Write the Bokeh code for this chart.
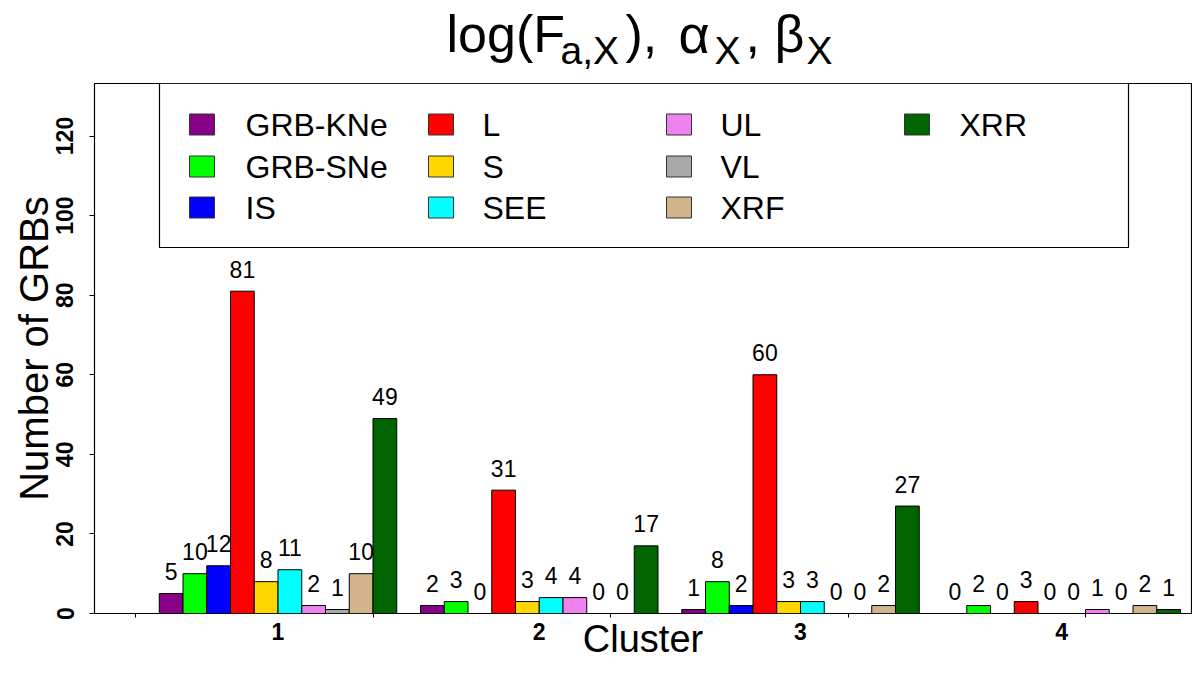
import numpy as np
from bokeh.plotting import figure
from bokeh.layouts import column
from bokeh.models import Range1d, FixedTicker, ColumnDataSource
from bokeh.core.properties import value
from bokeh.embed import file_html
from bokeh.resources import INLINE

# ---------------- data ----------------
clusters = ["1", "2", "3", "4"]
classes = ["GRB-KNe", "GRB-SNe", "IS", "L", "S", "SEE", "UL", "VL", "XRF", "XRR"]
grb_kne = [5, 2, 1, 0]
grb_sne = [10, 3, 8, 2]
is_ = [12, 0, 2, 0]
l_ = [81, 31, 60, 3]
s_ = [8, 3, 3, 0]
see = [11, 4, 3, 0]
ul = [2, 4, 0, 1]
vl = [1, 0, 0, 0]
xrf = [10, 0, 2, 2]
xrr = [49, 17, 27, 1]
series = [grb_kne, grb_sne, is_, l_, s_, see, ul, vl, xrf, xrr]
colors = ["#880088", "#00FF00", "#0000FF", "#FF0000", "#FFD700",
          "#00FFFF", "#EE82EE", "#A9A9A9", "#D2B48C", "#006400"]
x_minor_ticks = [0, 10, 20, 30, 40]
y_ticks = [0, 20, 40, 60, 80, 100, 120]

FONT = "Liberation Sans"

# ---------------- geometry helpers (page pixels) ----------------
FL, FR, FT, FB = 94, 1191, 83, 613   # frame edges in page px
X0, PXU = 135.0, 23.75               # px of x=0, px per x unit
Y0, PYU = float(FB), 3.979           # px of y=0, px per y unit
def px2x(px):
    return (px - X0) / PXU
def px2y(py):
    return (Y0 - py) / PYU

W = 1192
TH = 75                      # title strip height
H = 664 - TH

# ---------------- title strip (frame aligned with main frame) ----------------
t = figure(width=W, height=TH, output_backend="svg", toolbar_location=None,
           x_range=Range1d(FL, FR), y_range=Range1d(TH, 0),
           x_axis_location=None, y_axis_location=None,
           min_border_left=FL, min_border_right=W - FR,
           min_border_top=0, min_border_bottom=0)
t.xgrid.visible = False
t.ygrid.visible = False
t.outline_line_color = None
title_txt = ["log(F", "a,X", "),", "\u03b1", "X", ", \u03b2", "X"]
title_x = [446, 560, 625, 678, 714, 745, 806]
title_y = [33, 50, 33, 33, 50, 33, 50]
title_fs = ["52px", "39px", "52px", "54px", "39px", "52px", "39px"]
t.text(x=title_x, y=title_y, text=title_txt, text_font_size=title_fs,
       text_font=value(FONT), text_align="left", text_baseline="middle",
       text_color="black")

# ---------------- main plot ----------------
p = figure(width=W, height=H, output_backend="svg", toolbar_location=None,
           x_range=Range1d(px2x(FL), px2x(FR)), y_range=Range1d(0, px2y(FT)),
           min_border_left=FL, min_border_right=W - FR, min_border_top=FT - TH,
           min_border_bottom=H - (FB - TH))
p.xgrid.visible = False
p.ygrid.visible = False
p.outline_line_color = "black"
p.outline_line_width = 1.2

nser = len(classes)
xs, tops, cols, labs = [], [], [], []
for j, (vals, c) in enumerate(zip(series, colors)):
    for g, v in enumerate(vals):
        xs.append(1.5 + g * (nser + 1) + j)
        tops.append(v)
        cols.append(c)
        labs.append(str(v))
src = ColumnDataSource(dict(x=xs, top=tops, color=cols, lab=labs))
p.vbar(x="x", top="top", bottom=0, width=1.0, fill_color="color",
       line_color="black", line_width=1, source=src)
p.text(x="x", y="top", text="lab", source=src, text_align="center",
       text_baseline="middle", y_offset=-22, text_font=value(FONT),
       text_font_size="23px", text_color="black")

# y axis
ya = p.yaxis[0]
ya.ticker = FixedTicker(ticks=y_ticks)
ya.major_label_orientation = "vertical"
ya.major_label_text_font = FONT
ya.major_label_text_font_style = "bold"
ya.major_label_text_font_size = "23px"
ya.major_label_text_color = "black"
ya.major_label_standoff = 16
ya.major_tick_out = 5
ya.major_tick_in = 0
ya.minor_tick_out = 0
ya.minor_tick_in = 0
ya.axis_line_color = None
ya.major_tick_line_color = "black"
ya.axis_label = "Number of GRBs"
ya.axis_label_text_font = FONT
ya.axis_label_text_font_style = "normal"
ya.axis_label_text_font_size = "40px"
ya.axis_label_text_color = "black"
ya.axis_label_standoff = -2

# x axis: cluster names at group centres, plain ticks at 0,10,...,40
centers = [1 + g * (nser + 1) + nser / 2.0 for g in range(len(clusters))]
xa = p.xaxis[0]
xa.ticker = FixedTicker(ticks=centers, minor_ticks=x_minor_ticks)
xa.major_label_overrides = {c: n for c, n in zip(centers, clusters)}
xa.major_label_text_font = FONT
xa.major_label_text_font_style = "bold"
xa.major_label_text_font_size = "23px"
xa.major_label_text_color = "black"
xa.major_label_standoff = 5
xa.major_tick_out = 0
xa.major_tick_in = 0
xa.minor_tick_out = 4
xa.minor_tick_in = 0
xa.minor_tick_line_color = "black"
xa.axis_line_color = None
xa.axis_label = "Cluster"
xa.axis_label_text_font = FONT
xa.axis_label_text_font_style = "normal"
xa.axis_label_text_font_size = "38px"
xa.axis_label_text_color = "black"
xa.axis_label_standoff = -25

# legend (drawn manually, 4 columns x 3 rows)
p.quad(left=px2x(159), right=px2x(1128), top=px2y(FT), bottom=px2y(247),
       fill_color="white", line_color="black", line_width=1.2)
col_sw = [201.5, 440.5, 678.5, 916.5]
col_tx = [245, 482, 720, 959]
row_y = [124, 166, 207]
lx, ly, ltx, lty, lcol = [], [], [], [], []
for k, (name, c) in enumerate(zip(classes, colors)):
    ci, ri = k // 3, k % 3
    lx.append(px2x(col_sw[ci])); ly.append(px2y(row_y[ri]))
    ltx.append(px2x(col_tx[ci])); lty.append(px2y(row_y[ri]))
    lcol.append(c)
p.rect(x=lx, y=ly, width=25, height=21, width_units="screen",
       height_units="screen", fill_color=lcol, line_color="#333333", line_width=1)
p.text(x=ltx, y=lty, text=classes, text_font=value(FONT), text_font_size="32px",
       text_align="left", text_baseline="middle", text_color="black")

layout = column(t, p, spacing=0)
open("out.html", "w").write(file_html(layout, INLINE))
